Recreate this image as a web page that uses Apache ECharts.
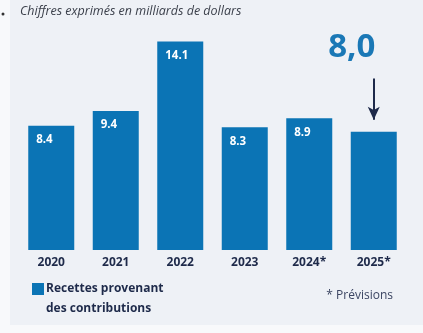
<!DOCTYPE html>
<html>
<head>
<meta charset="utf-8">
<script src="https://cdn.jsdelivr.net/npm/echarts@6/dist/echarts.min.js"></script>
<style>
  html, body { margin: 0; padding: 0; background: #f8f9fb; }
  #chart { width: 423px; height: 333px; }
</style>
</head>
<body>
<div id="chart"></div>
<script>
// Contribution revenue by year, in billions of dollars (* = forecast)
const years = ['2020', '2021', '2022', '2023', '2024*', '2025*'];
const revenue = [8.4, 9.4, 14.1, 8.3, 8.9, 8.0];
const legendLines = ['Recettes provenant', 'des contributions'];
const subtitle = 'Chiffres exprimés en milliards de dollars';
const footnote = '* Prévisions';

const FONT = '"Open Sans", "Noto Sans", sans-serif';
const BAR = '#0b74b5';
const NAVY = '#1e2a4a';
const last = revenue.length - 1;
const seriesName = legendLines.join(' ');

// The forecast year gets its value written large above the bar instead of inside it
const barData = revenue.map((v, i) => {
  if (i !== last) return v;
  return {
    value: v,
    label: {
      position: 'top',
      distance: 0,
      offset: [-22, -66],
      formatter: p => p.value.toFixed(1).replace('.', ','),
      fontSize: 33,
      lineHeight: 36,
      fontWeight: 'bold',
      color: '#1a78b6'
    }
  };
});

const chart = echarts.init(document.getElementById('chart'));
chart.setOption({
  backgroundColor: '#f8f9fb',
  animation: false,
  textStyle: { fontFamily: FONT },
  graphic: [
    { type: 'rect', z: -10, shape: { x: 10, y: 0, width: 413, height: 325 }, style: { fill: '#eef1f6' } },
    { type: 'circle', shape: { cx: 3, cy: 14, r: 1.5 }, style: { fill: '#333' } },
    { type: 'text', left: 20, top: 5,
      style: { text: subtitle, font: 'italic 12.5px ' + FONT, fill: '#3a3f4a' } },
    // second line of the legend entry, under the first
    { type: 'text', left: 46, top: 303,
      style: { text: legendLines[1], font: 'bold 12px ' + FONT, fill: NAVY } },
    { type: 'text', right: 30, top: 290,
      style: { text: footnote, font: '12px ' + FONT, fill: '#3b4562' } }
  ],
  legend: {
    left: 32, top: 283, padding: 0,
    itemWidth: 12, itemHeight: 12,
    icon: 'rect',
    formatter: () => legendLines[0],
    textStyle: { fontFamily: FONT, fontSize: 12, fontWeight: 'bold', color: NAVY, padding: [0, 0, 0, -3] },
    data: [seriesName]
  },
  grid: { left: 19, right: 17, top: 0, bottom: 83 },
  xAxis: {
    type: 'category',
    data: years,
    axisLine: { show: false },
    axisTick: { show: false },
    axisLabel: { margin: 7, fontSize: 12, fontWeight: 'bold', color: NAVY, fontFamily: FONT }
  },
  yAxis: { type: 'value', min: 0, max: 16.9, show: false },
  series: [{
    name: seriesName,
    type: 'bar',
    data: barData,
    barWidth: 46,
    itemStyle: { color: BAR },
    label: {
      show: true,
      position: 'insideTopLeft',
      distance: 8,
      fontSize: 11.5,
      fontWeight: 'bold',
      color: '#ffffff',
      fontFamily: FONT
    },
    markLine: {
      silent: true,
      symbol: ['none', 'arrow'],
      symbolSize: [9, 13],
      lineStyle: { color: NAVY, width: 2, type: 'solid' },
      label: { show: false },
      data: [[
        { coord: [years[last], revenue[last] + 3.6] },
        { coord: [years[last], revenue[last] + 0.8] }
      ]]
    }
  }]
});
</script>
</body>
</html>
